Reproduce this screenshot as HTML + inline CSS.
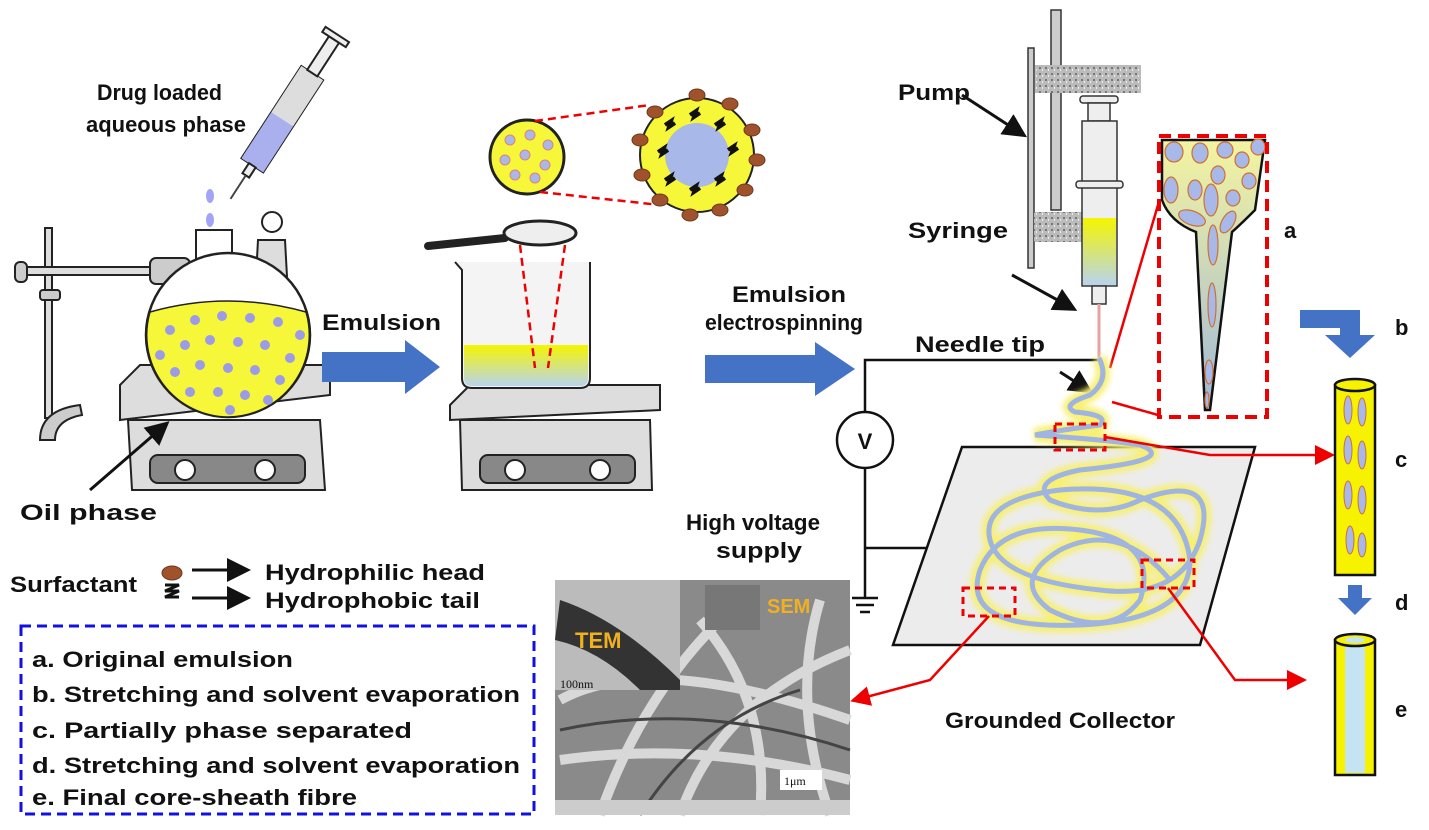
<!DOCTYPE html>
<html><head><meta charset="utf-8"><style>
html,body{margin:0;padding:0;background:#fff}
svg{display:block}
text{font-family:"Liberation Sans",Arial,sans-serif;font-weight:bold;fill:#111}
</style></head><body>
<svg width="1429" height="830" viewBox="0 0 1429 830" xmlns="http://www.w3.org/2000/svg">
<defs>
<linearGradient id="yb" x1="0" y1="0" x2="0" y2="1"><stop offset="0" stop-color="#f5f500"/><stop offset="1" stop-color="#b8d4ee"/></linearGradient>
<linearGradient id="cone" x1="0" y1="0" x2="0" y2="1"><stop offset="0" stop-color="#f4f4a0"/><stop offset="1" stop-color="#9fb8d8"/></linearGradient>
<pattern id="gr" width="6" height="6" patternUnits="userSpaceOnUse"><rect width="6" height="6" fill="#bbb"/><rect x="1" y="1" width="2" height="2" fill="#777"/><rect x="4" y="3" width="1" height="2" fill="#eee"/></pattern>
<filter id="glow"><feGaussianBlur stdDeviation="3"/></filter>
<marker id="ah" markerWidth="8" markerHeight="8" refX="6" refY="4" orient="auto"><path d="M0,0 L8,4 L0,8z" fill="#111"/></marker>
<marker id="ar" markerWidth="8" markerHeight="8" refX="6" refY="4" orient="auto"><path d="M0,0 L8,4 L0,8z" fill="#e00"/></marker>
</defs>

<!-- left: stand -->
<rect x="45" y="228" width="7" height="190" fill="#ddd" stroke="#222" stroke-width="2"/>
<path d="M40,440 Q40,410 80,405 L82,415 Q55,420 55,440z" fill="#ccc" stroke="#222" stroke-width="2"/>
<rect x="15" y="262" width="12" height="20" rx="5" fill="#ccc" stroke="#222" stroke-width="2"/>
<rect x="27" y="267" width="180" height="8" fill="#ddd" stroke="#222" stroke-width="2"/>
<rect x="40" y="290" width="20" height="10" rx="3" fill="#ccc" stroke="#222" stroke-width="2"/>
<rect x="150" y="258" width="40" height="26" rx="6" fill="#ccc" stroke="#222" stroke-width="2"/>
<!-- syringe diagonal -->
<g transform="translate(285,115) rotate(-57)">
<rect x="-60" y="-13" width="110" height="26" fill="#fff" stroke="#222" stroke-width="2"/>
<rect x="-60" y="-13" width="55" height="26" fill="#aab0ee"/>
<rect x="-5" y="-13" width="55" height="26" fill="#ddd"/>
<rect x="50" y="-6" width="40" height="12" fill="#eee" stroke="#222" stroke-width="2"/>
<rect x="90" y="-14" width="6" height="28" fill="#eee" stroke="#222" stroke-width="2"/>
<rect x="-72" y="-4" width="12" height="8" fill="#eee" stroke="#222" stroke-width="2"/>
<line x1="-72" y1="0" x2="-100" y2="0" stroke="#444" stroke-width="2"/>
</g>
<ellipse cx="210" cy="196" rx="4" ry="7" fill="#a4a4f4"/>
<ellipse cx="210" cy="220" rx="4" ry="7" fill="#a4a4f4"/>
<ellipse cx="210" cy="244" rx="4" ry="7" fill="#a4a4f4"/>
<text x="97" y="100" font-size="22" textLength="125" lengthAdjust="spacingAndGlyphs">Drug loaded</text>
<text x="86" y="132" font-size="22" textLength="160" lengthAdjust="spacingAndGlyphs">aqueous phase</text>
<!-- hotplate 1 -->
<path d="M120,385 L140,365 L330,365 L330,395 L120,420z" fill="#ddd" stroke="#222" stroke-width="2"/>
<path d="M128,420 L320,420 L325,490 L132,490z" fill="#ddd" stroke="#222" stroke-width="2"/>
<rect x="150" y="455" width="155" height="28" rx="8" fill="#888" stroke="#222" stroke-width="2"/>
<circle cx="185" cy="470" r="10" fill="#fff" stroke="#222" stroke-width="2"/>
<circle cx="265" cy="470" r="10" fill="#fff" stroke="#222" stroke-width="2"/>
<!-- flask -->
<rect x="196" y="230" width="36" height="50" fill="#fff" stroke="#222" stroke-width="2"/>
<path d="M255,295 L258,240 L285,240 L288,295z" fill="#ddd" stroke="#222" stroke-width="2"/>
<circle cx="272" cy="222" r="10" fill="#fff" stroke="#222" stroke-width="2"/>
<circle cx="228" cy="335" r="82" fill="#fff" stroke="#222" stroke-width="2.5"/>
<path d="M150,312 Q228,290 306,312 A82,82 0 0 1 228,417 A82,82 0 0 1 150,312z" fill="#f7f73a" stroke="#222" stroke-width="1.5"/>
<g fill="#9b9be8">
<circle cx="170" cy="330" r="5"/><circle cx="195" cy="320" r="5"/><circle cx="222" cy="316" r="5"/><circle cx="250" cy="318" r="5"/><circle cx="278" cy="322" r="5"/><circle cx="300" cy="335" r="5"/>
<circle cx="160" cy="355" r="5"/><circle cx="185" cy="345" r="5"/><circle cx="210" cy="340" r="5"/><circle cx="238" cy="342" r="5"/><circle cx="265" cy="345" r="5"/><circle cx="290" cy="358" r="5"/>
<circle cx="175" cy="372" r="5"/><circle cx="200" cy="365" r="5"/><circle cx="228" cy="368" r="5"/><circle cx="255" cy="370" r="5"/><circle cx="280" cy="380" r="5"/>
<circle cx="190" cy="392" r="5"/><circle cx="218" cy="392" r="5"/><circle cx="245" cy="395" r="5"/><circle cx="268" cy="400" r="5"/><circle cx="230" cy="410" r="5"/>
</g>
<line x1="90" y1="490" x2="165" y2="425" stroke="#111" stroke-width="3" marker-end="url(#ah)"/>
<text x="20" y="520" font-size="22" textLength="137" lengthAdjust="spacingAndGlyphs">Oil phase</text>
<!-- arrow 1 -->
<path d="M322,352 L405,352 L405,340 L440,367 L405,394 L405,382 L322,382z" fill="#4472c4"/>
<text x="322" y="330" font-size="22" textLength="119" lengthAdjust="spacingAndGlyphs">Emulsion</text>
<!-- hotplate 2 -->
<path d="M450,405 L470,385 L660,385 L660,410 L450,420z" fill="#ddd" stroke="#222" stroke-width="2"/>
<path d="M460,420 L650,420 L652,490 L462,490z" fill="#ddd" stroke="#222" stroke-width="2"/>
<rect x="480" y="455" width="155" height="28" rx="8" fill="#888" stroke="#222" stroke-width="2"/>
<circle cx="515" cy="470" r="10" fill="#fff" stroke="#222" stroke-width="2"/>
<circle cx="600" cy="470" r="10" fill="#fff" stroke="#222" stroke-width="2"/>
<!-- beaker -->
<path d="M455,262 L462,270 L462,378 Q462,388 472,388 L580,388 Q590,388 590,378 L590,262" fill="#f4f4f4" stroke="#222" stroke-width="2"/>
<path d="M464,345 L588,345 L588,378 Q588,386 580,386 L472,386 Q464,386 464,378z" fill="url(#yb)"/>
<line x1="520" y1="245" x2="535" y2="368" stroke="#e00" stroke-width="2.5" stroke-dasharray="8,5"/>
<line x1="565" y1="245" x2="548" y2="368" stroke="#e00" stroke-width="2.5" stroke-dasharray="8,5"/>
<line x1="428" y1="246" x2="505" y2="238" stroke="#222" stroke-width="8" stroke-linecap="round"/>
<ellipse cx="540" cy="233" rx="36" ry="12" fill="#eee" stroke="#222" stroke-width="3"/>
<!-- circles -->
<circle cx="527" cy="157" r="37" fill="#f7f73a" stroke="#222" stroke-width="3"/>
<g fill="#a8b8e8" stroke="#e08080" stroke-width="1"><circle cx="510" cy="140" r="5"/><circle cx="530" cy="135" r="5"/><circle cx="548" cy="145" r="5"/><circle cx="505" cy="160" r="5"/><circle cx="525" cy="155" r="5"/><circle cx="545" cy="165" r="5"/><circle cx="515" cy="175" r="5"/><circle cx="535" cy="178" r="5"/></g>
<line x1="535" y1="121" x2="650" y2="105" stroke="#e00" stroke-width="2.5" stroke-dasharray="8,5"/>
<line x1="540" y1="192" x2="660" y2="205" stroke="#e00" stroke-width="2.5" stroke-dasharray="8,5"/>
<circle cx="697" cy="155" r="57" fill="#f7f73a" stroke="#222" stroke-width="2"/>
<circle cx="697" cy="155" r="32" fill="#a8b8e8"/>
<g fill="#a0522d" stroke="#6b3a1a">
<ellipse cx="697" cy="95" rx="8" ry="6"/><ellipse cx="730" cy="104" rx="8" ry="6"/><ellipse cx="752" cy="130" rx="8" ry="6"/><ellipse cx="757" cy="160" rx="8" ry="6"/><ellipse cx="745" cy="190" rx="8" ry="6"/><ellipse cx="720" cy="210" rx="8" ry="6"/><ellipse cx="690" cy="215" rx="8" ry="6"/><ellipse cx="660" cy="200" rx="8" ry="6"/><ellipse cx="642" cy="175" rx="8" ry="6"/><ellipse cx="640" cy="140" rx="8" ry="6"/><ellipse cx="655" cy="112" rx="8" ry="6"/>
</g>
<g fill="none" stroke="#111" stroke-width="4"><path d="M665,125 l6,-4 l-2,6 l6,-4"/><path d="M690,115 l6,-4 l-2,6 l6,-4"/><path d="M715,125 l6,-4 l-2,6 l6,-4"/><path d="M728,150 l6,-4 l-2,6 l6,-4"/><path d="M715,180 l6,-4 l-2,6 l6,-4"/><path d="M690,190 l6,-4 l-2,6 l6,-4"/><path d="M665,180 l6,-4 l-2,6 l6,-4"/><path d="M658,152 l6,-4 l-2,6 l6,-4"/></g>
<!-- arrow 2 -->
<text x="732" y="302" font-size="22" textLength="114" lengthAdjust="spacingAndGlyphs">Emulsion</text>
<text x="705" y="330" font-size="22" textLength="158" lengthAdjust="spacingAndGlyphs">electrospinning</text>
<path d="M705,355 L815,355 L815,342 L855,369 L815,396 L815,383 L705,383z" fill="#4472c4"/>
<!-- circuit -->
<polyline points="865,412 865,360 1100,360" fill="none" stroke="#111" stroke-width="2.5"/>
<circle cx="865" cy="440" r="28" fill="#fff" stroke="#111" stroke-width="2.5"/>
<text x="865" y="449" font-size="22" text-anchor="middle">V</text>
<polyline points="865,468 865,598" fill="none" stroke="#111" stroke-width="2.5"/>
<line x1="865" y1="548" x2="1000" y2="548" stroke="#111" stroke-width="2.5"/>
<line x1="852" y1="598" x2="878" y2="598" stroke="#111" stroke-width="2.5"/>
<line x1="856" y1="605" x2="874" y2="605" stroke="#111" stroke-width="2.5"/>
<line x1="860" y1="612" x2="870" y2="612" stroke="#111" stroke-width="2.5"/>
<text x="915" y="352" font-size="22" textLength="130" lengthAdjust="spacingAndGlyphs">Needle tip</text>
<text x="686" y="530" font-size="22" textLength="134" lengthAdjust="spacingAndGlyphs">High voltage</text>
<text x="716" y="558" font-size="22" textLength="86" lengthAdjust="spacingAndGlyphs">supply</text>
<!-- pump -->
<rect x="1028" y="48" width="6" height="220" fill="#ccc" stroke="#333" stroke-width="1.5"/>
<rect x="1051" y="10" width="10" height="200" fill="#ccc" stroke="#333" stroke-width="1.5"/>
<rect x="1035" y="65" width="106" height="28" fill="url(#gr)"/>
<rect x="1034" y="212" width="49" height="30" fill="url(#gr)"/>
<rect x="1080" y="96" width="38" height="7" rx="3" fill="#eee" stroke="#333" stroke-width="1.5"/>
<rect x="1088" y="103" width="22" height="18" fill="#eee" stroke="#333" stroke-width="1.5"/>
<rect x="1082" y="121" width="35" height="165" fill="#eee" stroke="#333" stroke-width="1.5"/>
<rect x="1083" y="218" width="33" height="67" fill="url(#yb)"/>
<rect x="1076" y="181" width="47" height="7" rx="3" fill="#eee" stroke="#333" stroke-width="1.5"/>
<rect x="1092" y="286" width="14" height="18" fill="#eee" stroke="#333" stroke-width="1.5"/>
<line x1="1099" y1="304" x2="1099" y2="358" stroke="#e8a0a0" stroke-width="3"/>
<text x="898" y="100" font-size="22" textLength="72" lengthAdjust="spacingAndGlyphs">Pump</text>
<line x1="962" y1="95" x2="1022" y2="134" stroke="#111" stroke-width="3" marker-end="url(#ah)"/>
<text x="908" y="238" font-size="22" textLength="100" lengthAdjust="spacingAndGlyphs">Syringe</text>
<line x1="1012" y1="275" x2="1072" y2="308" stroke="#111" stroke-width="3" marker-end="url(#ah)"/>
<line x1="1060" y1="372" x2="1088" y2="390" stroke="#111" stroke-width="3" marker-end="url(#ah)"/>
<!-- taylor cone -->
<path d="M1162,140 L1265,140 L1255,210 Q1240,225 1232,232 L1210,410 L1205,410 L1196,232 Q1170,222 1162,200z" fill="url(#cone)" stroke="#111" stroke-width="2.5"/>
<g fill="#a8b8e8" stroke="#d07030" stroke-width="1.2">
<ellipse cx="1174" cy="152" rx="9" ry="10"/><ellipse cx="1200" cy="153" rx="8" ry="10"/><ellipse cx="1225" cy="150" rx="8" ry="8"/><ellipse cx="1258" cy="147" rx="7" ry="8"/><ellipse cx="1242" cy="160" rx="7" ry="8"/><ellipse cx="1218" cy="175" rx="7" ry="9"/><ellipse cx="1249" cy="181" rx="7" ry="8"/><ellipse cx="1171" cy="190" rx="7" ry="13"/><ellipse cx="1195" cy="190" rx="7" ry="10"/><ellipse cx="1211" cy="200" rx="7" ry="16"/><ellipse cx="1233" cy="198" rx="7" ry="8"/><ellipse cx="1192" cy="218" rx="14" ry="7" transform="rotate(20 1192 218)"/><ellipse cx="1228" cy="222" rx="6" ry="12" transform="rotate(30 1228 222)"/><ellipse cx="1213" cy="245" rx="5" ry="20"/><ellipse cx="1212" cy="305" rx="4" ry="22"/><ellipse cx="1209" cy="372" rx="4" ry="12"/><ellipse cx="1207" cy="400" rx="2" ry="8"/>
</g>
<rect x="1159" y="136" width="108" height="281" fill="none" stroke="#e00" stroke-width="4" stroke-dasharray="12,7"/>
<line x1="1110" y1="368" x2="1158" y2="205" stroke="#e00" stroke-width="2.5"/>
<line x1="1112" y1="402" x2="1158" y2="415" stroke="#e00" stroke-width="2.5"/>
<text x="1284" y="238" font-size="22">a</text>
<!-- collector -->
<path d="M962,447 L1255,447 L1200,645 L893,645z" fill="#ececec" stroke="#111" stroke-width="2.5"/>
<defs>
<path id="fib" d="M1099,358 Q1110,380 1090,395 Q1060,405 1075,412 Q1110,415 1100,425 Q1060,430 1035,435 Q1110,440 1140,445 Q1180,460 1080,470 Q1030,480 1050,500 Q1100,520 1140,500 Q1220,470 1200,540 Q1180,600 1100,590 Q1000,580 990,540 Q980,500 1060,490 Q1180,480 1190,560 Q1190,620 1080,625 Q960,630 980,570 Q1000,520 1080,530 Q1160,540 1140,600 Q1110,640 1050,610 Q1010,580 1060,550 Q1120,520 1170,580"/>
</defs>
<use href="#fib" stroke="#f8f070" stroke-width="14" fill="none" filter="url(#glow)"/>
<use href="#fib" stroke="#9fb4e0" stroke-width="5" fill="none"/>
<rect x="1055" y="424" width="50" height="26" fill="none" stroke="#e00" stroke-width="3" stroke-dasharray="7,5"/>
<rect x="963" y="588" width="52" height="28" fill="none" stroke="#e00" stroke-width="3" stroke-dasharray="7,5"/>
<rect x="1142" y="560" width="52" height="28" fill="none" stroke="#e00" stroke-width="3" stroke-dasharray="7,5"/>
<polyline points="1105,437 1210,455 1330,455" fill="none" stroke="#e00" stroke-width="2.5" marker-end="url(#ar)"/>
<polyline points="1168,588 1235,680 1302,680" fill="none" stroke="#e00" stroke-width="2.5" marker-end="url(#ar)"/>
<polyline points="989,616 930,680 855,700" fill="none" stroke="#e00" stroke-width="2.5" marker-end="url(#ar)"/>
<text x="945" y="728" font-size="22" textLength="230" lengthAdjust="spacingAndGlyphs">Grounded Collector</text>
<!-- right fibres -->
<path d="M1300,310 L1360,310 L1360,335 L1375,335 L1350,358 L1325,335 L1340,335 L1340,328 L1300,328z" fill="#4472c4"/>
<text x="1395" y="335" font-size="22">b</text>
<rect x="1335" y="385" width="40" height="190" fill="#f7f300" stroke="#111" stroke-width="2.5"/>
<ellipse cx="1355" cy="385" rx="20" ry="6" fill="#f7f300" stroke="#111" stroke-width="2.5"/>
<g fill="#a8b8e8" stroke="#d07030"><ellipse cx="1348" cy="410" rx="4" ry="14"/><ellipse cx="1362" cy="412" rx="4" ry="14"/><ellipse cx="1348" cy="450" rx="4" ry="14"/><ellipse cx="1362" cy="455" rx="4" ry="14"/><ellipse cx="1348" cy="495" rx="4" ry="14"/><ellipse cx="1362" cy="500" rx="4" ry="14"/><ellipse cx="1350" cy="540" rx="4" ry="14"/><ellipse cx="1362" cy="545" rx="4" ry="12"/></g>
<text x="1395" y="467" font-size="22">c</text>
<path d="M1348,585 L1362,585 L1362,598 L1372,598 L1355,615 L1338,598 L1348,598z" fill="#4472c4"/>
<text x="1395" y="610" font-size="22">d</text>
<rect x="1335" y="640" width="40" height="135" fill="#f7f300" stroke="#111" stroke-width="2.5"/>
<rect x="1345" y="642" width="20" height="131" fill="#c4e4f4"/>
<ellipse cx="1355" cy="640" rx="20" ry="6" fill="#f7f300" stroke="#111" stroke-width="2.5"/>
<ellipse cx="1355" cy="640" rx="10" ry="3" fill="#c4e4f4"/>
<text x="1395" y="717" font-size="22">e</text>
<!-- SEM -->
<rect x="555" y="580" width="295" height="235" fill="#8a8a8a"/>
<g fill="none" stroke="#d8d8d8" stroke-width="10">
<path d="M560,700 Q650,650 850,720"/><path d="M600,815 Q640,700 720,620"/><path d="M680,815 Q720,700 850,650"/><path d="M560,760 Q700,740 850,780"/><path d="M760,815 Q770,700 700,620"/><path d="M820,600 Q790,700 830,815"/>
</g>
<g fill="none" stroke="#444" stroke-width="3"><path d="M560,730 Q700,700 850,750"/><path d="M640,815 Q700,720 800,690"/></g>
<rect x="555" y="580" width="125" height="110" fill="#bbb"/>
<path d="M560,600 Q620,620 680,680 L680,690 L640,690 Q600,650 555,640z" fill="#333"/>
<rect x="705" y="585" width="55" height="45" fill="#777"/>
<text x="575" y="648" font-size="22" style="fill:#f0b020">TEM</text>
<text x="767" y="613" font-size="20" style="fill:#f0b020">SEM</text>
<text x="560" y="688" font-size="12" style="font-family:'Liberation Serif';font-weight:normal">100nm</text>
<rect x="780" y="770" width="42" height="20" fill="#fff"/>
<text x="784" y="785" font-size="12" style="font-family:'Liberation Serif';font-weight:normal">1μm</text>
<rect x="555" y="800" width="295" height="15" fill="#ccc"/>
<!-- legend -->
<text x="10" y="592" font-size="22" textLength="127" lengthAdjust="spacingAndGlyphs">Surfactant</text>
<ellipse cx="172" cy="573" rx="10" ry="7" fill="#a0522d" stroke="#6b3a1a"/>
<path d="M165,585 l14,0 l-14,6 l14,0 l-14,6 l14,0" fill="none" stroke="#111" stroke-width="3"/>
<line x1="192" y1="570" x2="245" y2="570" stroke="#111" stroke-width="3" marker-end="url(#ah)"/>
<line x1="192" y1="598" x2="245" y2="598" stroke="#111" stroke-width="3" marker-end="url(#ah)"/>
<text x="265" y="580" font-size="22" textLength="220" lengthAdjust="spacingAndGlyphs">Hydrophilic head</text>
<text x="265" y="608" font-size="22" textLength="215" lengthAdjust="spacingAndGlyphs">Hydrophobic tail</text>
<rect x="21" y="626" width="513" height="188" fill="none" stroke="#1010e0" stroke-width="3" stroke-dasharray="10,6"/>
<text x="32" y="667" font-size="22" textLength="261" lengthAdjust="spacingAndGlyphs">a. Original emulsion</text>
<text x="32" y="702" font-size="22" textLength="488" lengthAdjust="spacingAndGlyphs">b. Stretching and solvent evaporation</text>
<text x="32" y="738" font-size="22" textLength="380" lengthAdjust="spacingAndGlyphs">c. Partially phase separated</text>
<text x="32" y="773" font-size="22" textLength="488" lengthAdjust="spacingAndGlyphs">d. Stretching and solvent evaporation</text>
<text x="32" y="805" font-size="22" textLength="325" lengthAdjust="spacingAndGlyphs">e. Final core-sheath fibre</text>
</svg>
</body></html>
